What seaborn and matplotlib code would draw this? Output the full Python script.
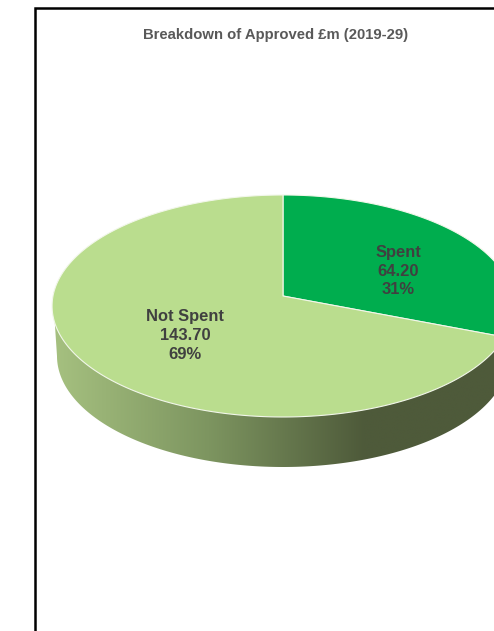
import numpy as np
import matplotlib
matplotlib.use("Agg")
import matplotlib.pyplot as plt
from matplotlib.colors import ListedColormap
from matplotlib.patches import Polygon
import seaborn as sns

categories = ["Spent", "Not Spent"]
values = [64.20, 143.70]
colors = ["#00AD4E", "#BADD8E"]
title = "Breakdown of Approved £m (2019-29)"

sns.set_theme(style="white")
plt.rcParams["font.family"] = ["Liberation Sans", "DejaVu Sans"]

fig = plt.figure(figsize=(4.94, 6.31), dpi=100, facecolor="white")
ax = fig.add_axes([0, 0, 1, 1])
ax.set_xlim(0, 494)
ax.set_ylim(631, 0)
ax.axis("off")

CX, CY, K, RY, SHIFT, C, DEPTH = 283.0, 306.0, 230.0, 111.0, 10.0, 0.09, 50.0


def project(theta):
    """Clockwise-from-top angle on the pie's disc to picture pixels (tilted, perspective)."""
    u, v = np.sin(theta), np.cos(theta)
    w = 1 + C * v
    return CX + K * u / w, CY - (RY * v + SHIFT) / w


# side wall: gradient clipped to the band between the two rims
t_low = np.linspace(-np.pi / 2, np.pi / 2, 300)
bx = CX + 226 * np.sin(t_low + np.pi)
by = CY + DEPTH - RY * np.cos(t_low + np.pi)
order = np.argsort(bx)
bx, by = bx[order], by[order]
t_up = np.linspace(np.pi / 2, -np.pi / 2, 300)
ux, uy = project(t_up)
side = Polygon(np.r_[np.c_[bx, by], np.c_[ux, uy]], closed=True, transform=ax.transData,
               facecolor="none", edgecolor="none")
ax.add_patch(side)
ramp = sns.blend_palette(["#A6C180", "#7D9560", "#4E5A3A", "#4E5A3A"], 256)
stops = np.linspace(0, 1, 256)[None, :]
img = ax.imshow(stops, extent=(52, 520, 480, 290), cmap=ListedColormap(ramp),
                aspect="auto", zorder=1, interpolation="bilinear")
img.set_clip_path(side)
ax.set_xlim(0, 494)
ax.set_ylim(631, 0)

# top face: wedges from the values
fractions = np.array(values) / np.sum(values)
edges = np.r_[0, np.cumsum(fractions)] * 2 * np.pi
centre = (CX, CY - SHIFT)
for i, col in enumerate(colors):
    t = np.linspace(edges[i], edges[i + 1], 300)
    x, y = project(t)
    ax.fill(np.r_[centre[0], x], np.r_[centre[1], y], facecolor=col,
            edgecolor="#F2F7EA", linewidth=0.8, zorder=2, joinstyle="round")

# data labels
label_xy = [(398, 271), (185, 335.5)]
for name, val, frac, (lx, ly) in zip(categories, values, fractions, label_xy):
    ax.text(lx, ly, f"{name}\n{val:.2f}\n{frac:.0%}", ha="center", va="center",
            fontsize=11.9, fontweight="bold", color="#404040", linespacing=1.31, zorder=3)

ax.text(275.5, 34.5, title, ha="center", va="center", fontsize=10.7,
        fontweight="bold", color="#595959", zorder=3)

# chart frame
ax.plot([34.5, 34.5, 500], [640, 8, 8], color="black", linewidth=1.8,
        solid_joinstyle="miter", zorder=4)

fig.savefig("out.png", dpi=100, facecolor="white")
